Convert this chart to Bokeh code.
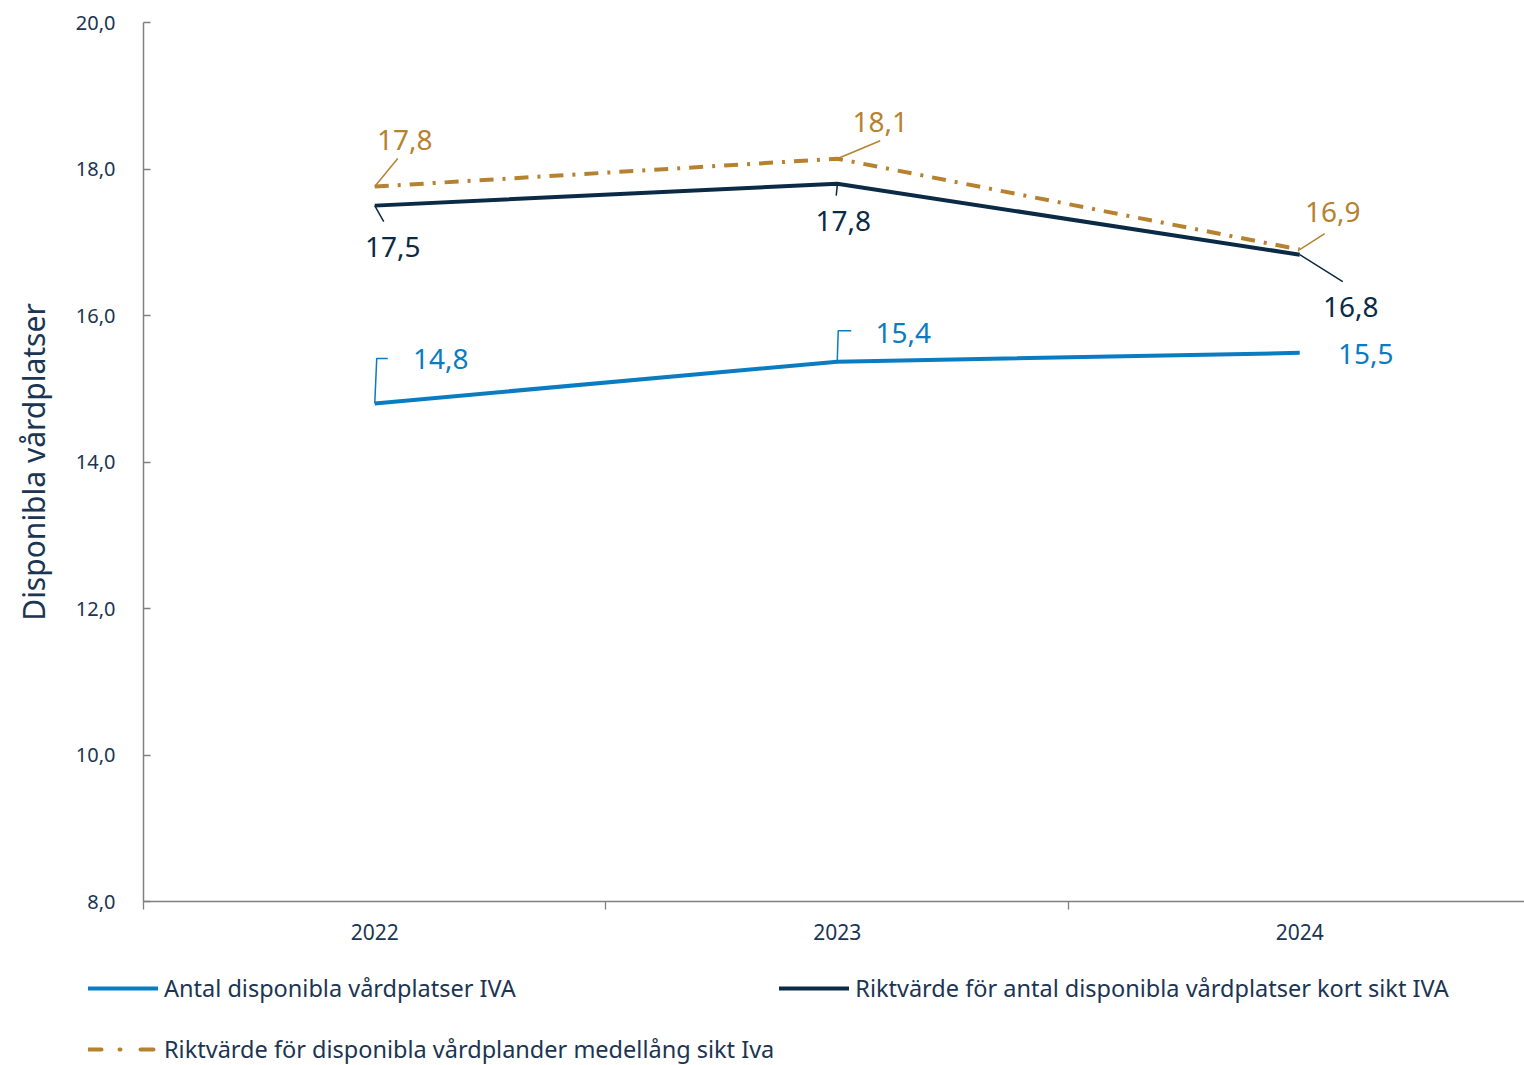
from bokeh.plotting import figure
from bokeh.models import FixedTicker, Legend, LegendItem, ColumnDataSource
from bokeh.core.properties import value
from bokeh.embed import file_html
from bokeh.resources import INLINE

# ---- data ----
years = ["2022", "2023", "2024"]
antal_iva = [14.8, 15.37, 15.49]
kort_sikt = [17.5, 17.8, 16.83]
medel_sikt = [17.76, 18.14, 16.9]
y_ticks = [8, 10, 12, 14, 16, 18, 20]
y_tick_labels = ["8,0", "10,0", "12,0", "14,0", "16,0", "18,0", "20,0"]
series_names = [
    "Antal disponibla vårdplatser IVA",
    "Riktvärde för antal disponibla vårdplatser kort sikt IVA",
    "Riktvärde för disponibla vårdplander medellång sikt Iva",
]

# ---- styles ----
BLUE = "#0a7cc2"
NAVY = "#0b2a46"
GOLD = "#b7822f"
TXT = "#1b3552"
AXC = "#808080"
FONT = "Noto Sans"
DASH = "14 9 3 9"

xs = list(range(len(years)))

p = figure(width=1524, height=960, x_range=(-0.5, 2.486), y_range=(8, 20),
           output_backend="svg", toolbar_location=None,
           min_border_left=143, min_border_right=0, min_border_top=22,
           min_border_bottom=59)
p.outline_line_color = None
p.xgrid.visible = False
p.ygrid.visible = False

# x axis
p.xaxis.ticker = FixedTicker(ticks=xs, minor_ticks=[x - 0.5 for x in xs])
p.xaxis.major_label_overrides = {x: y for x, y in zip(xs, years)}
p.xaxis.major_tick_in = 0
p.xaxis.major_tick_out = 0
p.xaxis.minor_tick_in = 0
p.xaxis.minor_tick_out = 8
p.xaxis.minor_tick_line_color = AXC
p.xaxis.minor_tick_line_width = 1.3
p.xaxis.axis_line_color = AXC
p.xaxis.axis_line_width = 1.5
p.xaxis.major_label_text_font = FONT
p.xaxis.major_label_text_font_size = "21px"
p.xaxis.major_label_text_color = TXT
p.xaxis.major_label_standoff = 14

# y axis
p.yaxis.ticker = FixedTicker(ticks=y_ticks)
p.yaxis.major_label_overrides = {t: l for t, l in zip(y_ticks, y_tick_labels)}
p.yaxis.major_tick_in = 7
p.yaxis.major_tick_out = 0
p.yaxis.major_tick_line_color = AXC
p.yaxis.major_tick_line_width = 1.3
p.yaxis.minor_tick_line_color = None
p.yaxis.axis_line_color = AXC
p.yaxis.axis_line_width = 1.5
p.yaxis.major_label_text_font = FONT
p.yaxis.major_label_text_font_size = "20px"
p.yaxis.major_label_text_color = TXT
p.yaxis.major_label_standoff = 28
p.yaxis.axis_label = "Disponibla vårdplatser"
p.yaxis.axis_label_text_font = FONT
p.yaxis.axis_label_text_font_size = "30px"
p.yaxis.axis_label_text_font_style = "normal"
p.yaxis.axis_label_text_color = TXT
p.yaxis.axis_label_standoff = 19

# lines
p.line(xs, antal_iva, line_color=BLUE, line_width=4)
p.line(xs, kort_sikt, line_color=NAVY, line_width=4)
p.line(xs, medel_sikt, line_color=GOLD, line_width=4, line_dash=DASH)

# data labels with leader lines (offsets in screen px)
PX_X = 462.5   # px per x unit
PX_Y = 73.25   # px per y unit

def fmt(v):
    return f"{v:.1f}".replace(".", ",")

label_specs = [
    (antal_iva, BLUE, [(66, -44), (66, -29), (66, 1)],
     [[(0, 0), (2, -45), (13, -45)], [(0, 0), (1, -31), (14, -31)], []]),
    (kort_sikt, NAVY, [(18, 41), (6, 37), (51, 52)],
     [[(0, 0), (9, 16)], [(0, 2), (-1, 12)], [(0, 0), (43, 27)]]),
    (medel_sikt, GOLD, [(30, -47), (43, -37), (33, -38)],
     [[(0, 0), (23, -28)], [(0, 0), (43, -18)], [(0, 0), (25, -16)]]),
]

for vals, col, offs, leaders in label_specs:
    src = ColumnDataSource(dict(
        x=xs, y=vals, t=[fmt(v) for v in vals],
        dx=[o[0] for o in offs], dy=[o[1] for o in offs]))
    p.text(x="x", y="y", text="t", x_offset="dx", y_offset="dy", source=src,
           text_color=col, text_font=value(FONT), text_font_size="28px",
           text_align="center", text_baseline="middle")
    lx, ly = [], []
    for x, v, pts in zip(xs, vals, leaders):
        if not pts:
            continue
        lx.append([x + a / PX_X for a, b in pts])
        ly.append([v - b / PX_Y for a, b in pts])
    if lx:
        p.multi_line(lx, ly, line_color=col, line_width=1.5)

# ---- legend strip below the chart (series drawn out of view, legend only) ----
q = figure(width=1524, height=105, x_range=(0, 1), y_range=(0, 1),
           output_backend="svg", toolbar_location=None,
           x_axis_type=None, y_axis_type=None,
           min_border_left=0, min_border_right=0, min_border_top=0,
           min_border_bottom=0)
q.outline_line_color = None
q.xgrid.visible = False
q.ygrid.visible = False
g1 = q.line(xs, antal_iva, line_color=BLUE, line_width=4, line_cap="round")
g2 = q.line(xs, kort_sikt, line_color=NAVY, line_width=4, line_cap="round")
g3 = q.line(xs, medel_sikt, line_color=GOLD, line_width=4, line_cap="round",
            line_dash="13 18 1 20")

legend = Legend(items=[
    LegendItem(label=series_names[0], renderers=[g1]),
    LegendItem(label=series_names[1], renderers=[g2]),
    LegendItem(label=series_names[2], renderers=[g3]),
], location=(88, -12), orientation="horizontal", ncols=2)
legend.glyph_width = 70
legend.glyph_height = 56
legend.label_height = 56
legend.label_standoff = 6
legend.spacing = 5
legend.padding = 0
legend.margin = 0
legend.border_line_color = None
legend.background_fill_alpha = 0
legend.label_text_font = FONT
legend.label_text_font_size = "23.5px"
legend.label_text_color = TXT
q.add_layout(legend)

open("out.html", "w").write(file_html([p, q], INLINE))
